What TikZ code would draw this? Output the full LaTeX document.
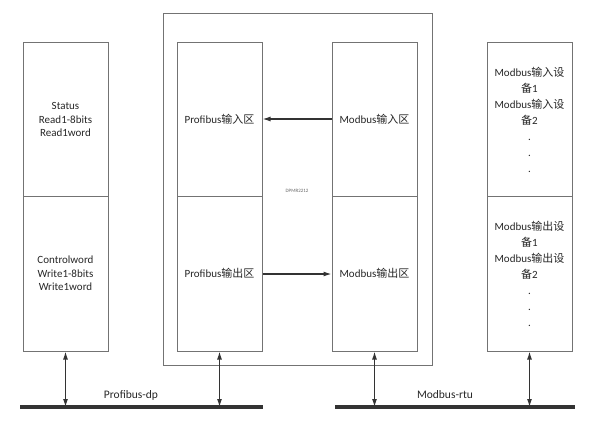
\documentclass[tikz,border=0pt]{standalone}
\usepackage{fontspec}
\setmainfont{Carlito}
\newfontfamily\cjk{Noto Sans CJK SC}
\usetikzlibrary{arrows.meta}

\tikzset{
  area/.style={draw=gray!90!black, line width=1pt, minimum width=85pt, inner sep=0pt,
    align=center, text=black!85, font=\fontsize{11}{13.5}\selectfont},
  link/.style={draw=black!80, line width=1.2pt, -{Latex[length=8pt,width=5pt]}},
  duplex/.style={draw=black!80, line width=1.2pt, {Latex[length=8pt,width=5pt]}-{Latex[length=8pt,width=5pt]}},
  bus/.style={draw=black!80, line width=3.5pt},
}

\begin{document}
\begin{tikzpicture}[x=1pt,y=-1pt]
  \useasboundingbox (0,0) rectangle (600,428);

  % gateway frame
  \node[draw=gray!90!black, line width=1pt, minimum width=269pt, minimum height=351pt,
    inner sep=0pt] (dpmbox) at (297.5,189.5) {};
  \node[font=\fontsize{5}{6}\selectfont, text=black!60] (dpmname) at (297,191) {DPMR2212};

  % profibus master
  \node[area, minimum height=153pt] (statusbox) at (65.5,119.5) {Status\\Read1-8bits\\Read1word};
  \node[area, minimum height=155pt] (ctrlbox) at (65.5,273.5) {Controlword\\Write1-8bits\\Write1word};

  % gateway areas
  \node[area, minimum height=153pt] (pinbox) at (219.5,119.5) {Profibus{\cjk 输入区}};
  \node[area, minimum height=155pt] (poutbox) at (219.5,273.5) {Profibus{\cjk 输出区}};
  \node[area, minimum height=153pt] (minbox) at (374.5,119.5) {Modbus{\cjk 输入区}};
  \node[area, minimum height=155pt] (moutbox) at (374.5,273.5) {Modbus{\cjk 输出区}};

  % modbus devices
  \node[area, minimum height=153pt, font=\fontsize{11}{16}\selectfont] (devinbox) at (529.5,119.5)
    {Modbus{\cjk 输入设}\\{\cjk 备}1\\Modbus{\cjk 输入设}\\{\cjk 备}2\\.\\.\\.};
  \node[area, minimum height=155pt, font=\fontsize{11}{16}\selectfont] (devoutbox) at (529.5,273.5)
    {Modbus{\cjk 输出设}\\{\cjk 备}1\\Modbus{\cjk 输出设}\\{\cjk 备}2\\.\\.\\.};

  \draw[link] (minbox.west |- 0,119) -- (pinbox.east |- 0,119);
  \draw[link] (poutbox.east |- 0,274) -- (moutbox.west |- 0,274);

  % buses
  \coordinate (dpL) at (20,407);
  \coordinate (dpR) at (263,407);
  \coordinate (rtuL) at (335,407);
  \coordinate (rtuR) at (575,407);
  \draw[bus] (dpL) -- (dpR);
  \draw[bus] (rtuL) -- (rtuR);
  \node[font=\fontsize{11.5}{13}\selectfont, text=black!85] (dpname) at (131,395) {Profibus-dp};
  \node[font=\fontsize{11.5}{13}\selectfont, text=black!85] (rtuname) at (445,395) {Modbus-rtu};

  \draw[duplex] (ctrlbox.south) -- (ctrlbox.south |- dpL);
  \draw[duplex] (poutbox.south) -- (poutbox.south |- dpL);
  \draw[duplex] (moutbox.south) -- (moutbox.south |- rtuL);
  \draw[duplex] (devoutbox.south) -- (devoutbox.south |- rtuL);
\end{tikzpicture}
\end{document}
